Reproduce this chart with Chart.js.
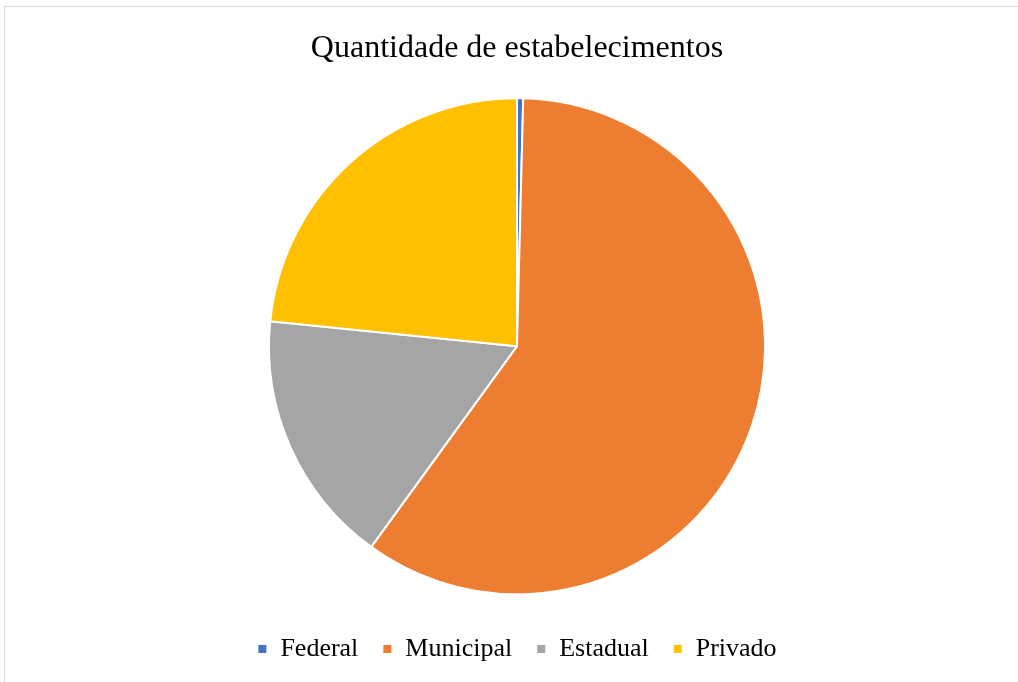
<!DOCTYPE html>
<html>
<head>
<meta charset="utf-8">
<script src="https://cdn.jsdelivr.net/npm/chart.js@4"></script>
<style>
    html, body { margin: 0; padding: 0; background: #ffffff; }
    #wrap { position: relative; width: 1018px; height: 682px; }
    #frame {
        position: absolute; left: 4px; top: 6px; width: 1100px; height: 700px;
        border-top: 1px solid #d9d9d9; border-left: 1px solid #d9d9d9;
        pointer-events: none;
    }
</style>
</head>
<body>
<div id="wrap">
    <canvas id="pieChart" width="1018" height="682"></canvas>
    <div id="frame"></div>
</div>
<script>
// Categories and share of establishments (%)
const categories = ["Federal", "Municipal", "Estadual", "Privado"];
const shares = [0.4, 59.6, 16.6, 23.4];
const sliceColors = ["#4472C4", "#ED7D31", "#A5A5A5", "#FFC000"];

const ctx = document.getElementById('pieChart').getContext('2d');

const data = {
    labels: categories,
    datasets: [{
        data: shares,
        backgroundColor: sliceColors,
        borderColor: '#ffffff',
        borderWidth: 2,
        radius: 248
    }]
};

const config = {
    type: 'pie',
    data: data,
    options: {
        responsive: false,
        animation: false,
        layout: {
            padding: { left: 16, right: 0, top: 0, bottom: 10 }
        },
        plugins: {
            title: {
                display: true,
                text: 'Quantidade de estabelecimentos',
                color: '#000000',
                font: { family: '"Liberation Serif", "Times New Roman", serif', size: 32, weight: 'normal' },
                padding: { top: 29, bottom: 13 }
            },
            legend: {
                position: 'bottom',
                labels: {
                    color: '#000000',
                    font: { family: '"Liberation Serif", "Times New Roman", serif', size: 26 },
                    boxWidth: 10,
                    boxHeight: 10,
                    padding: 24
                }
            },
            tooltip: { enabled: false }
        }
    }
};

new Chart(ctx, config);
</script>
</body>
</html>
